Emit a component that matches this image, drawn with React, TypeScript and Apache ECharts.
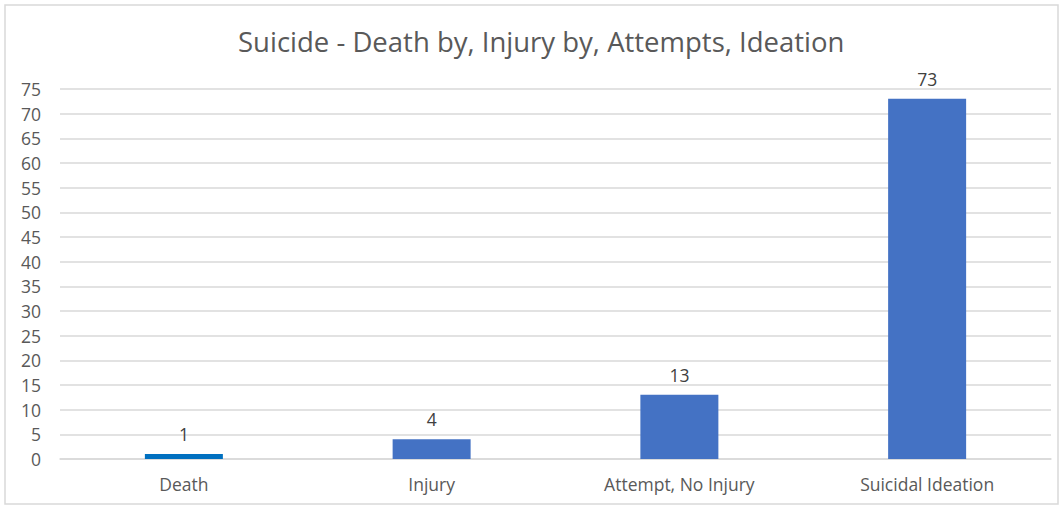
import React, { useEffect, useRef } from "react";
import * as echarts from "echarts";

const categories = ["Death", "Injury", "Attempt, No Injury", "Suicidal Ideation"];
const values = [1, 4, 13, 73];
const barColors = ["#0070C0", "#4472C4", "#4472C4", "#4472C4"];
const titleText = "Suicide - Death by, Injury by, Attempts, Ideation";

export default function App() {
  const ref = useRef<HTMLDivElement>(null);
  useEffect(() => {
    if (!ref.current) return;
    const chart = echarts.init(ref.current, undefined, { renderer: "svg" });
    const font = "'Open Sans', 'Noto Sans', sans-serif";
    chart.setOption({
      animation: false,
      backgroundColor: "#ffffff",
      title: {
        text: titleText,
        left: 233,
        top: 22,
        textStyle: { fontFamily: font, fontSize: 27.5, fontWeight: "normal", color: "#595959" },
      },
      graphic: [
        {
          type: "rect",
          shape: { x: 5, y: 5, width: 1053, height: 499 },
          style: { fill: "none", stroke: "#d9d9d9", lineWidth: 1.5 },
          silent: true,
        },
      ],
      grid: { left: 60, right: 12, top: 89, bottom: 49, containLabel: false },
      xAxis: {
        type: "category",
        data: categories,
        axisLine: { show: true, lineStyle: { color: "#d9d9d9", width: 1.5 } },
        axisTick: { show: false },
        axisLabel: { fontFamily: font, fontSize: 17.5, color: "#595959", margin: 16 },
      },
      yAxis: {
        type: "value",
        min: 0,
        max: 75,
        interval: 5,
        axisLine: { show: false },
        axisTick: { show: false },
        splitLine: { lineStyle: { color: "#d9d9d9", width: 1.5 } },
        axisLabel: { fontFamily: font, fontSize: 17.5, color: "#595959", margin: 19 },
      },
      series: [
        {
          type: "bar",
          barWidth: 78,
          data: values.map((v, i) => ({ value: v, itemStyle: { color: barColors[i] } })),
          label: {
            show: true,
            position: "top",
            distance: 11,
            fontFamily: font,
            fontSize: 17.5,
            color: "#404040",
          },
        },
      ],
    });
    return () => chart.dispose();
  }, []);
  return (
    <div
      ref={ref}
      style={{ position: "fixed", left: 0, top: 0, width: 1063, height: 508 }}
    />
  );
}
